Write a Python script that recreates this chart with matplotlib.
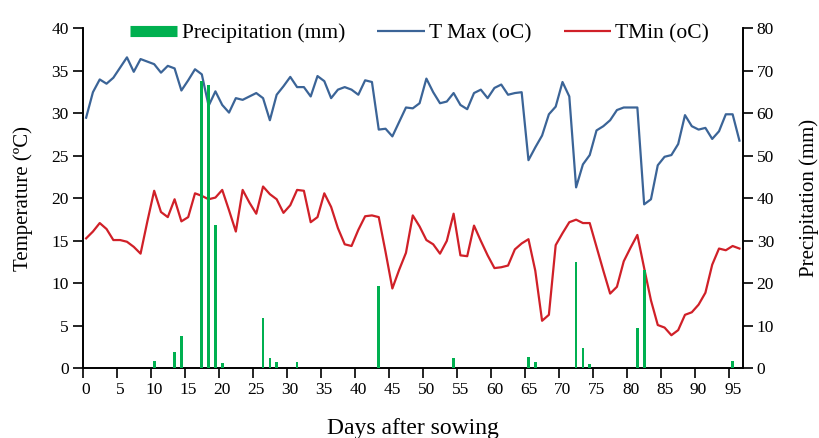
import numpy as np
import matplotlib.pyplot as plt
from matplotlib.lines import Line2D

days = list(range(97))
tmax = [29.5, 32.5, 34.0, 33.5, 34.2, 35.4, 36.6, 34.9, 36.4, 36.1,
        35.8, 34.8, 35.6, 35.3, 32.7, 33.9, 35.2, 34.6, 30.9, 32.6,
        31.0, 30.1, 31.8, 31.6, 32.0, 32.4, 31.8, 29.2, 32.2, 33.2,
        34.3, 33.1, 33.1, 32.0, 34.4, 33.8, 31.8, 32.8, 33.1, 32.8,
        32.2, 33.9, 33.7, 28.1, 28.2, 27.3, 29.0, 30.7, 30.6, 31.2,
        34.1, 32.5, 31.2, 31.4, 32.4, 31.0, 30.5, 32.4, 32.8, 31.8,
        33.0, 33.4, 32.2, 32.4, 32.5, 24.5, 26.0, 27.4, 29.9, 30.8,
        33.7, 32.0, 21.3, 24.0, 25.1, 28.0, 28.5, 29.2, 30.4, 30.7,
        30.7, 30.7, 19.3, 19.9, 23.9, 24.9, 25.1, 26.4, 29.8, 28.5,
        28.1, 28.3, 27.0, 27.9, 29.9, 29.9, 26.8]
tmin = [15.3, 16.1, 17.1, 16.4, 15.1, 15.1, 14.9, 14.3, 13.5, 17.3,
        20.9, 18.4, 17.8, 19.9, 17.3, 17.8, 20.6, 20.3, 19.9, 20.1,
        21.0, 18.6, 16.1, 21.0, 19.5, 18.2, 21.4, 20.5, 19.9, 18.3,
        19.2, 21.0, 20.9, 17.2, 17.8, 20.6, 19.0, 16.5, 14.6, 14.4,
        16.3, 17.9, 18.0, 17.8, 13.7, 9.4, 11.6, 13.6, 18.0, 16.7,
        15.1, 14.6, 13.5, 15.0, 18.2, 13.3, 13.2, 16.8, 15.0, 13.3,
        11.8, 11.9, 12.1, 14.0, 14.7, 15.2, 11.5, 5.6, 6.3, 14.5,
        15.9, 17.2, 17.5, 17.1, 17.1, 14.3, 11.5, 8.8, 9.6, 12.6,
        14.2, 15.7, 11.8, 8.0, 5.1, 4.8, 3.9, 4.5, 6.3, 6.6,
        7.5, 8.9, 12.2, 14.1, 13.9, 14.4, 14.1]
precip_days = [10, 13, 14, 17, 18, 19, 20, 26, 27, 28, 31, 43, 54, 65, 66,
               72, 73, 74, 81, 82, 95]
precip_mm = [1.8, 3.9, 7.6, 67.6, 66.8, 33.7, 1.2, 11.8, 2.4, 1.5, 1.5, 19.4,
             2.4, 2.7, 1.5, 25.1, 4.9, 1.0, 9.6, 23.1, 1.8]
x_labels = list(range(0, 96, 5))

c_max = '#3B6497'
c_min = '#D02028'
c_pre = '#00B050'

plt.rcParams['font.family'] = ['Liberation Serif', 'DejaVu Serif']
fig = plt.figure(figsize=(8.19, 4.38), dpi=100)
ax = fig.add_axes([0.101, 0.159, 0.806, 0.776])
ax2 = ax.twinx()

ax.plot(days, tmax, color=c_max, lw=1.6, zorder=3)
ax.plot(days, tmin, color=c_min, lw=1.6, zorder=3)
ax2.bar(precip_days, precip_mm, width=0.4, color=c_pre, zorder=4)

ax.set_xlim(-0.5, 96.5)
ax.set_ylim(0, 40)
ax2.set_ylim(0, 80)
ax.set_yticks(range(0, 41, 5))
ax2.set_yticks(range(0, 81, 10))

ax.set_xticks(np.arange(-0.5, 95, 5))
ax.set_xticklabels([])
ax.set_xticks(x_labels, minor=True)
ax.set_xticklabels([str(v) for v in x_labels], minor=True)
ax.tick_params(axis='x', which='major', direction='out', length=7, width=1.2)
ax.tick_params(axis='x', which='minor', length=0, pad=10, labelsize=12.5)
ax.tick_params(axis='y', direction='out', length=7, width=1.2, labelsize=12.5, pad=3)
ax2.tick_params(axis='y', direction='out', length=7, width=1.2, labelsize=12.5, pad=3)

for a in (ax, ax2):
    a.spines['top'].set_visible(False)
    for s in ('left', 'right', 'bottom'):
        a.spines[s].set_linewidth(1.2)

ax.set_ylabel('Temperature (ºC)', fontsize=15)
ax.yaxis.set_label_coords(-0.075, 0.5)
ax2.set_ylabel('Precipitation (mm)', fontsize=15)
ax2.yaxis.set_label_coords(1.085, 0.5)
ax.set_xlabel('Days after sowing', fontsize=17)
ax.xaxis.set_label_coords(0.5, -0.145)

handles = [Line2D([], [], color=c_pre, lw=8, solid_capstyle='butt'),
           Line2D([], [], color=c_max, lw=1.6, solid_capstyle='butt'),
           Line2D([], [], color=c_min, lw=1.6, solid_capstyle='butt')]
labels = ['Precipitation (mm)', 'T Max (oC)', 'TMin (oC)']
ax2.legend(handles, labels, loc='center left', bbox_to_anchor=(130 / 819, 1 - 33 / 438),
           bbox_transform=fig.transFigure, ncol=3, frameon=False, fontsize=15.5,
           handlelength=2.2, handletextpad=0.2, columnspacing=1.5,
           borderpad=0, borderaxespad=0)

fig.savefig('out.png', dpi=100)
